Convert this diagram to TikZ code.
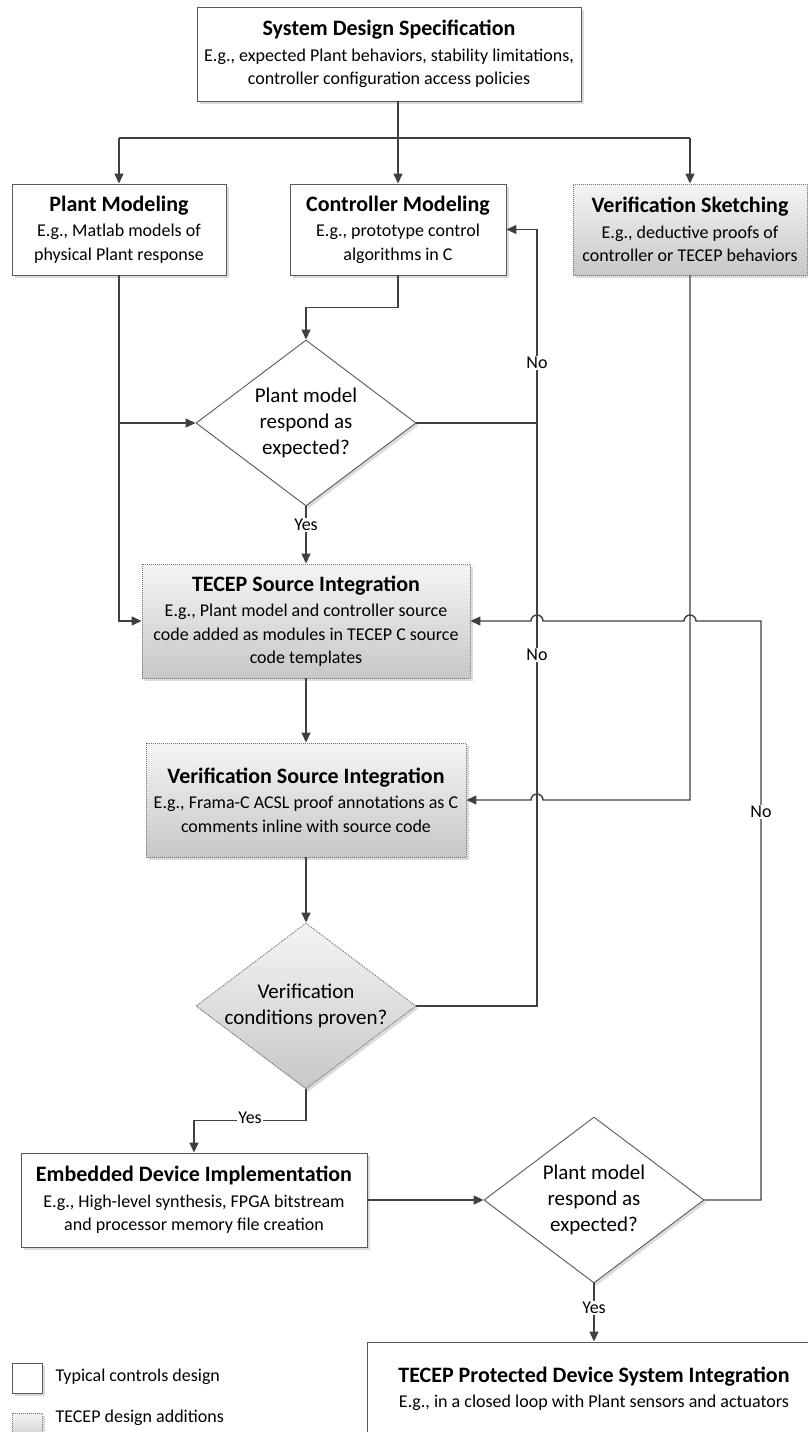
\documentclass[tikz,border=0pt]{standalone}
\usepackage{fontspec}
\setmainfont{Carlito}
\usetikzlibrary{arrows.meta,shapes.geometric,shadows}

\definecolor{linegray}{HTML}{404040}
\definecolor{framegray}{HTML}{5A5A5A}

% bold heading line of a process box
\newcommand\boxtitle[1]{{\fontsize{22}{26}\selectfont\bfseries #1}\\[2pt]}

\tikzset{
  wire/.style={draw=linegray, line width=1.4pt},
  flow/.style={wire, -{Triangle[length=10pt,width=9pt]}},
  bodyfont/.style={font=\fontsize{18}{23.5}\selectfont},
  qfont/.style={font=\fontsize{21}{26}\selectfont, align=center, inner sep=0pt},
  lightshadow/.style={drop shadow={shadow xshift=2.5pt, shadow yshift=-2.5pt, fill=black!14, opacity=1}},
  plainbox/.style={draw=framegray, line width=0.9pt, fill=white, align=center,
    inner sep=0pt, bodyfont, lightshadow},
  tecepbox/.style={draw=black!55, line width=0.9pt, dash pattern=on 1pt off 1pt,
    top color=black!4, bottom color=black!22, align=center, inner sep=0pt,
    bodyfont, lightshadow},
  plaindiamond/.style={diamond, draw=framegray, line width=0.9pt, fill=white,
    minimum width=220pt, minimum height=166pt, inner sep=0pt, lightshadow},
  tecepdiamond/.style={diamond, draw=black!55, line width=0.9pt,
    dash pattern=on 1pt off 1pt, top color=black!4, bottom color=black!22,
    minimum width=220pt, minimum height=166pt, inner sep=0pt, lightshadow},
  tag/.style={fill=white, inner sep=1.5pt, bodyfont},
}

\begin{document}
\begin{tikzpicture}[x=1pt, y=-1pt]
\useasboundingbox[fill=white] (0,0) rectangle (807,1432);

% ---------- process boxes ----------
\node[plainbox, minimum width=384pt, minimum height=94pt] (sds) at (389,54)
  {\boxtitle{System Design Specification}E.g., expected Plant behaviors, stability limitations,\\controller configuration access policies};

\node[plainbox, minimum width=214pt, minimum height=91pt] (pm) at (119,229.5)
  {\boxtitle{Plant Modeling}E.g., Matlab models of\\physical Plant response};
\node[plainbox, minimum width=216pt, minimum height=91pt] (cm) at (398,229.5)
  {\boxtitle{Controller Modeling}E.g., prototype control\\algorithms in C};
\node[tecepbox, minimum width=234pt, minimum height=91pt] (vs) at (690,229.5)
  {\boxtitle{Verification Sketching}E.g., deductive proofs of\\controller or TECEP behaviors};

\node[plaindiamond] (d1) at (306,423) {};
\node[qfont] (d1t) at (d1.center) {Plant model\\respond as\\expected?};

\node[tecepbox, minimum width=328pt, minimum height=114pt] (tsi) at (306,621)
  {\boxtitle{TECEP Source Integration}E.g., Plant model and controller source\\code added as modules in TECEP C source\\code templates};
\node[tecepbox, minimum width=320pt, minimum height=114pt] (vsi) at (306,800)
  {\boxtitle{Verification Source Integration}E.g., Frama-C ACSL proof annotations as C\\comments inline with source code};

\node[tecepdiamond] (d2) at (306,1006) {};
\node[qfont] (d2t) at (d2.center) {Verification\\conditions proven?};

\node[plainbox, minimum width=346pt, minimum height=94pt] (edi) at (194,1200)
  {\boxtitle{Embedded Device Implementation}E.g., High-level synthesis, FPGA bitstream\\and processor memory file creation};

\node[plaindiamond] (d3) at (594,1200) {};
\node[qfont] (d3t) at (d3.center) {Plant model\\respond as\\expected?};

\node[plainbox, minimum width=454pt, minimum height=94pt] (pdsi) at (594,1389)
  {\boxtitle{TECEP Protected Device System Integration}E.g., in a closed loop with Plant sensors and actuators};

% ---------- routing helpers ----------
\coordinate (bus) at (0,138);
\coordinate (nox) at (537,0);
\coordinate (rx) at (761,0);
\coordinate (h1) at (nox |- tsi.east);
\coordinate (h2) at (vs.south |- tsi.east);
\coordinate (h3) at (nox |- vsi.east);

% ---------- connectors ----------
\draw[flow] (cm.north |- sds.south) -- (cm.north);
\draw[wire] (pm.north |- bus) -- (vs.north |- bus);
\draw[flow] (pm.north |- bus) -- (pm.north);
\draw[flow] (vs.north |- bus) -- (vs.north);

\draw[flow] (cm.south) -- ++(0,32) -| (d1.north);
\draw[flow] (pm.south) |- (tsi.west);
\draw[flow] (pm.south |- d1.west) -- (d1.west);
\draw[wire] (d1.east) -- (d1.east -| nox);
\draw[flow] (d2.east) -| (nox |- cm.east) -- (cm.east);

\draw[flow] (d1.south) -- (tsi.north);
\draw[flow] (tsi.south) -- (vsi.north);
\draw[flow] (vsi.south) -- (d2.north);

\draw[flow] (vs.south) |- ([xshift=6pt]h3)
  arc[start angle=0, end angle=180, radius=6pt] -- (vsi.east);
\draw[flow] (d3.east) -- (d3.east -| rx) -- (rx |- tsi.east) -- ([xshift=6pt]h2)
  arc[start angle=0, end angle=180, radius=6pt] -- ([xshift=6pt]h1)
  arc[start angle=0, end angle=180, radius=6pt] -- (tsi.east);

\draw[flow] (d2.south) -- ++(0,31) -| (edi.north);
\draw[flow] (edi.east) -- (d3.west);
\draw[flow] (d3.south) -- (pdsi.north);

% ---------- branch labels ----------
\node[tag] (no1) at (537,363) {No};
\node[tag] (no2) at (537,655) {No};
\node[tag] (no3) at (761,812) {No};
\node[tag] (yes1) at (306,525) {Yes};
\node[tag] (yes2) at (250,1118) {Yes};
\node[tag] (yes3) at (594,1308) {Yes};

% ---------- legend ----------
\node[plainbox, minimum width=30pt, minimum height=30pt] (lg1) at (27,1378) {};
\node[bodyfont, anchor=west] (lg1t) at (52,1377) {Typical controls design};
\node[tecepbox, minimum width=30pt, minimum height=30pt] (lg2) at (27,1428) {};
\node[bodyfont, anchor=west] (lg2t) at (52,1418) {TECEP design additions};
\end{tikzpicture}
\end{document}
